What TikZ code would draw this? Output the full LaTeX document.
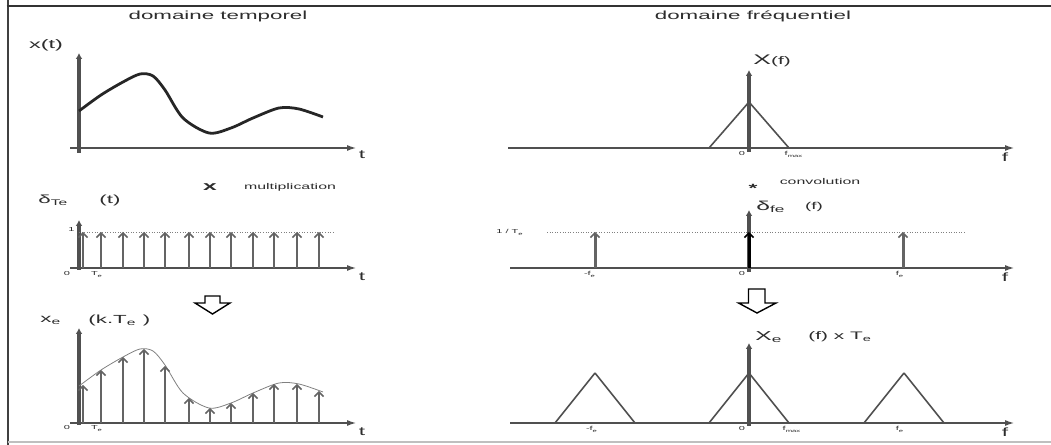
\documentclass[tikz,border=0pt]{standalone}
\usepackage{fontspec}
\setmainfont{Liberation Sans}[FakeStretch=1.9]
\usetikzlibrary{arrows.meta}

\definecolor{axisgray}{RGB}{80,80,80}
\definecolor{stemgray}{RGB}{100,100,100}
\definecolor{labelgray}{RGB}{45,45,45}

\begin{document}
\begin{tikzpicture}[>=latex,line join=bevel,
  lbl/.style={inner sep=0pt,text=labelgray},
  lbltitle/.style={lbl,font=\fontsize{5.9}{7}\selectfont},
  lblbig/.style={lbl,font=\fontsize{5.9}{7}\selectfont},
  lblaxis/.style={lbl,font=\fontsize{6}{7}\selectfont},
  lblsmall/.style={lbl,font=\fontsize{4.2}{5}\selectfont},
  lbltick/.style={lbl,font=\fontsize{2.9}{3}\selectfont,anchor=north},
  haxis/.style={draw=axisgray,line width=1pt,-{Latex[length=5bp,width=3bp]}},
  vaxis/.style={draw=axisgray,line width=1.6pt,-{Latex[length=3bp,width=3.4bp]}},
  stem/.style={draw=stemgray,line width=1.5pt,-{Straight Barb[length=2.2bp,width=4.6bp,line width=0.8pt]}},
  levelline/.style={draw=gray,line width=0.3pt,densely dotted},
  spectrum/.style={draw=axisgray,line width=0.8pt},
  hollow/.style={draw=black,line width=0.7pt,line join=miter},
]
\useasboundingbox (0bp,0bp) rectangle (525.5bp,222.5bp);
%% cadre
\draw [draw=black!75,line width=1.5pt] (4bp,0bp) -- (4bp,222.5bp);
\draw [draw=black!80,line width=1pt] (3.25bp,219.5bp) -- (525.5bp,219.5bp);
\draw [draw=black!25,line width=1pt] (4bp,1.5bp) -- (525.5bp,1.5bp);
%%
\node (node_tt) at (109bp,214.5bp) [lbltitle] {domaine temporel};
\node (node_tf) at (376.5bp,214.5bp) [lbltitle] {domaine fréquentiel};
%% x(t)
\node (node_xt) at (23bp,200bp) [lblbig,font=\fontsize{6.2}{7}\selectfont] {x(t)};
\node (node_t1) at (181bp,145bp) [lblaxis] {t};
\coordinate (yb_1) at (39.5bp,146bp);
\coordinate (yt_1) at (39.5bp,196bp);
\coordinate (xb_1) at (35bp,148.5bp);
\coordinate (xt_1) at (178.5bp,148.5bp);
\draw [vaxis] (yb_1) -- (yt_1);
\draw [haxis] (xb_1) -- (xt_1);
\draw [black!85,line width=1.4pt] plot [smooth] coordinates {(39.5bp,167bp) (50.5bp,175bp) (61.5bp,181.5bp) (70bp,185.5bp) (76.5bp,184.5bp) (82.5bp,177.5bp) (91.5bp,163.5bp) (104.5bp,156bp) (115.5bp,158.5bp) (126.5bp,163.5bp) (139.5bp,168.5bp) (149.5bp,168bp) (161.5bp,164bp)};
%% peigne de Dirac
\node (node_mul) at (105bp,129bp) [lbl,font=\fontsize{6.5}{7}\selectfont\bfseries] {x};
\node (node_multi) at (145bp,129bp) [lblsmall] {multiplication};
\node (node_dte) at (19bp,122.5bp) [lblbig,anchor=west] {δ\textsubscript{Te}};
\node (node_dtt) at (55bp,122.5bp) [lblbig] {(t)};
\node (node_t2) at (181bp,84bp) [lblaxis] {t};
\node (node_one) at (37.5bp,107.5bp) [lbltick,anchor=east] {1};
\node (node_z2) at (33.5bp,87bp) [lbltick] {0};
\node (node_te2) at (48.5bp,87bp) [lbltick] {T\textsubscript{e}};
\coordinate (yb_2) at (39.5bp,87.5bp);
\coordinate (yt_2) at (39.5bp,112.5bp);
\coordinate (xb_2) at (35bp,88.5bp);
\coordinate (xt_2) at (178.5bp,88.5bp);
\draw [vaxis] (yb_2) -- (yt_2);
\draw [haxis] (xb_2) -- (xt_2);
\draw [levelline] (39.5bp,106.5bp) -- (166.5bp,106.5bp);
\foreach \xk in {41.5,50.5,61.5,72,82.5,94.5,105,115.5,126.5,137,148.5,159.5}
  \draw [stem] (\xk bp,88.5bp) -- (\xk bp,106.5bp);
%%
\draw [hollow] (102.5bp,74.5bp) -- (110bp,74.5bp) -- (110bp,71bp) -- (115bp,71bp) -- (106.25bp,65.5bp) -- (97.5bp,71bp) -- (102.5bp,71bp) -- cycle;
%% signal echantillonne
\node (node_xe) at (20bp,62.5bp) [lblbig,anchor=west] {x\textsubscript{e}};
\node (node_kte) at (44bp,62.5bp) [lblbig,anchor=west] {(k.T\textsubscript{e} )};
\node (node_t3) at (181bp,6.5bp) [lblaxis] {t};
\node (node_z3) at (33.5bp,10bp) [lbltick] {0};
\node (node_te3) at (48.5bp,10bp) [lbltick] {T\textsubscript{e}};
\coordinate (yb_3) at (39.5bp,10bp);
\coordinate (yt_3) at (39.5bp,58.5bp);
\coordinate (xb_3) at (35bp,11bp);
\coordinate (xt_3) at (178.5bp,11bp);
\draw [vaxis] (yb_3) -- (yt_3);
\draw [haxis] (xb_3) -- (xt_3);
\draw [gray,line width=0.4pt] plot [smooth] coordinates {(39.5bp,29.5bp) (50.5bp,37.5bp) (61.5bp,44bp) (70bp,48bp) (76.5bp,47bp) (82.5bp,40bp) (91.5bp,26bp) (104.5bp,18.5bp) (115.5bp,21bp) (126.5bp,26bp) (139.5bp,31bp) (149.5bp,30.5bp) (161.5bp,26.5bp)};
\foreach \xk/\yk in {41.5/30,50.5/37.5,61.5/44,72/48,82.5/39.5,94.5/23.5,105/18.5,115.5/21,126.5/26,137/30.5,148.5/30.5,159.5/27}
  \draw [stem] (\xk bp,11bp) -- (\xk bp,\yk bp);
%% X(f)
\node (node_xf) at (376.5bp,192bp) [lbl,anchor=west] {\fontsize{7}{8}\selectfont X\fontsize{5.5}{6}\selectfont(f)};
\node (node_f4) at (502.5bp,144bp) [lblaxis] {f};
\node (node_z4) at (371bp,147bp) [lbltick] {0};
\node (node_fm4) at (397bp,147bp) [lbltick] {f\textsubscript{max}};
\coordinate (yb_4) at (374.5bp,146.5bp);
\coordinate (yt_4) at (374.5bp,187.5bp);
\coordinate (xb_4) at (254bp,148.5bp);
\coordinate (xt_4) at (507.5bp,148.5bp);
\draw [vaxis] (yb_4) -- (yt_4);
\draw [haxis] (xb_4) -- (xt_4);
\draw [spectrum] (354.5bp,148.5bp) -- (374.5bp,171.5bp) -- (394.5bp,148.5bp);
%% peigne en frequence
\node (node_conv) at (376.5bp,128.5bp) [lbl,font=\fontsize{6}{7}\selectfont\bfseries] {*};
\node (node_convt) at (410bp,131.5bp) [lblsmall] {convolution};
\node (node_dfe) at (378bp,119bp) [lbl,anchor=west] {\fontsize{6.5}{7}\selectfont δ\textsubscript{fe}};
\node (node_dff) at (407bp,119bp) [lbl,font=\fontsize{5}{6}\selectfont] {(f)};
\node (node_inv) at (255bp,106.5bp) [lbltick,anchor=center] {1 / T\textsubscript{e}};
\node (node_f5) at (502.5bp,84bp) [lblaxis] {f};
\node (node_mfe5) at (295bp,87bp) [lbltick] {-f\textsubscript{e}};
\node (node_z5) at (371bp,87bp) [lbltick] {0};
\node (node_fe5) at (450bp,87bp) [lbltick] {f\textsubscript{e}};
\coordinate (yb_5) at (374.5bp,86.5bp);
\coordinate (yt_5) at (374.5bp,117.5bp);
\coordinate (xb_5) at (255bp,88.5bp);
\coordinate (xt_5) at (507.5bp,88.5bp);
\draw [haxis] (xb_5) -- (xt_5);
\draw [vaxis] (yb_5) -- (yt_5);
\draw [levelline] (273.5bp,106.5bp) -- (482.5bp,106.5bp);
\draw [stem] (297.5bp,88.5bp) -- (297.5bp,106.5bp);
\draw [stem,draw=black] (374.5bp,88.5bp) -- (374.5bp,106.5bp);
\draw [stem] (451.5bp,88.5bp) -- (451.5bp,106.5bp);
%%
\draw [hollow] (374.25bp,78bp) -- (382.5bp,78bp) -- (382.5bp,71bp) -- (388bp,71bp) -- (378.5bp,66bp) -- (369.25bp,71bp) -- (374.25bp,71bp) -- cycle;
%% spectre echantillonne
\node (node_xef) at (377.5bp,54bp) [lbl,anchor=west] {\fontsize{6.5}{7}\selectfont X\textsubscript{e}};
\node (node_xefte) at (404bp,54bp) [lbl,anchor=west,font=\fontsize{5.5}{6}\selectfont] {(f) x T\textsubscript{e}};
\node (node_f6) at (502.5bp,6.5bp) [lblaxis] {f};
\node (node_mfe6) at (296bp,9.5bp) [lbltick] {-f\textsubscript{e}};
\node (node_z6) at (371bp,9.5bp) [lbltick] {0};
\node (node_fm6) at (396bp,9.5bp) [lbltick] {f\textsubscript{max}};
\node (node_fe6) at (450bp,9.5bp) [lbltick] {f\textsubscript{e}};
\coordinate (yb_6) at (374.5bp,9.5bp);
\coordinate (yt_6) at (374.5bp,51bp);
\coordinate (xb_6) at (255bp,11bp);
\coordinate (xt_6) at (507.5bp,11bp);
\draw [vaxis] (yb_6) -- (yt_6);
\draw [haxis] (xb_6) -- (xt_6);
\foreach \xc in {297.5,374.5,452}
  \draw [spectrum] (\xc bp-20bp,11bp) -- (\xc bp,36bp) -- (\xc bp+20bp,11bp);
%
\end{tikzpicture}
\end{document}
